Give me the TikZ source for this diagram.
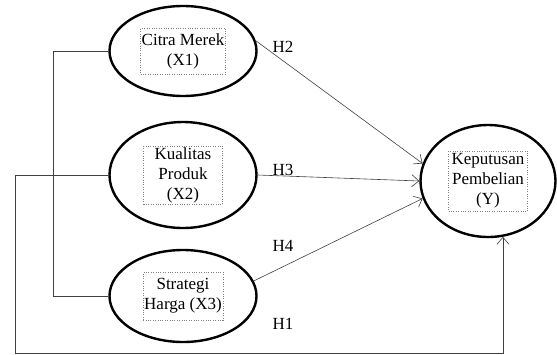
\documentclass[tikz,border=0pt]{standalone}
\usepackage{fontspec}
\setmainfont{Liberation Serif}
\usetikzlibrary{arrows, arrows.meta, shapes, positioning, calc}

\begin{document}
\begin{tikzpicture}[x=1pt, y=-1pt,
    var/.style={draw, ellipse, line width=2.4pt, inner sep=0pt},
    lbl/.style={draw=gray, dotted, align=center, inner sep=1pt, font=\fontsize{17}{20}\selectfont},
    hyp/.style={font=\fontsize{17}{20}\selectfont},
    path/.style={draw=black!75, line width=0.6pt},
    >={Straight Barb[length=7pt, width=12pt]}]
    \useasboundingbox (0,0) rectangle (557,354);

    % Draw the variables
    \node[var, minimum width=147, minimum height=90] (x1) at (183,51) {};
    \node[var, minimum width=147, minimum height=106] (x2) at (183,175) {};
    \node[var, minimum width=147, minimum height=92] (x3) at (183,296) {};
    \node[var, minimum width=135, minimum height=112] (y) at (488,181) {};

    % Labels inside
    \node[lbl, minimum width=79, minimum height=46] (tx1) at (x1) {Citra Merek\\(X1)};
    \node[lbl, minimum width=79, minimum height=58] (tx2) at (x2) {Kualitas\\Produk\\(X2)};
    \node[lbl, minimum width=79, minimum height=48] (tx3) at (x3) {Strategi\\Harga (X3)};
    \node[lbl, minimum width=79, minimum height=60] (ty) at (y) {Keputusan\\Pembelian\\(Y)};

    % Hypotheses
    \draw[path, ->] (x1.8) -- (y.165);
    \draw[path, ->] (x2.east) -- (y.180);
    \draw[path, ->] (x3.12) -- (y.195);
    \node[hyp] (h2) at (283,47) {H2};
    \node[hyp] (h3) at (283,170) {H3};
    \node[hyp] (h4) at (283,246) {H4};
    \node[hyp] (h1) at (283,324) {H1};

    % Bracket on the left
    \draw[path] (x1.west) -- ++(-55,0) |- (x3.west);

    % Loop round to Y
    \coordinate (loop) at (15,353);
    \draw[path, ->] (x2.west) -| (loop) -| (y.285);
\end{tikzpicture}
\end{document}
